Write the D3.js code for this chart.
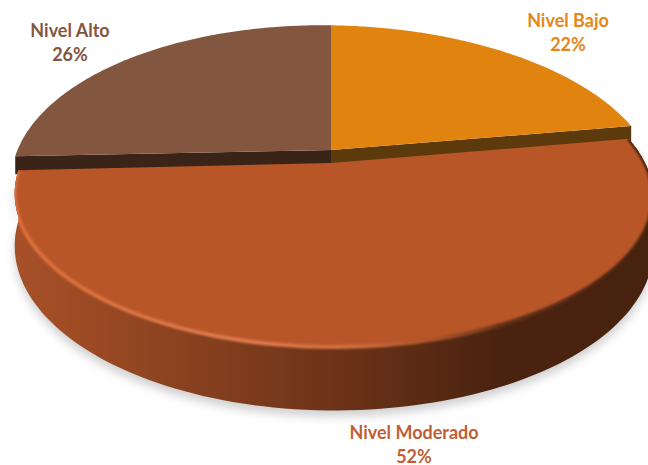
<!DOCTYPE html>
<html>
<head>
<meta charset="utf-8">
<script src="https://cdn.jsdelivr.net/npm/d3@7"></script>
<style>
  html, body { margin: 0; padding: 0; background: #fff; }
  svg { display: block; }
  text { font-family: Lato, "Open Sans", sans-serif; font-weight: 700; font-size: 18px; text-anchor: middle; }
</style>
</head>
<body>
<svg id="chart" width="648" height="465"></svg>
<script>
const categories = ['Nivel Bajo', 'Nivel Moderado', 'Nivel Alto'];
const values = [22, 52, 26];
const topColors = ['#e0830f', '#b85628', '#835640'];
const faceColors = ['#5c3a0b', '#4a2310', '#3a2418'];
const textColors = ['#e5861a', '#c05f35', '#835640'];
const labelPos = [[568, 27], [414, 439], [70, 37]];

const svg = d3.select('#chart');
const defs = svg.append('defs');

// perspective of the pie: back of the disc is squashed, front is stretched
const depth = 50, bulge = 3;
const project = (a, c, d = 0) => {
    const u = Math.sin(a), v = -Math.cos(a), w = 1 / (1 - c.persp * v);
    return [c.x + bulge * Math.abs(u) + c.radX * u * w, c.y + c.tilt * u + (c.radY * v + d) * w];
};

const arcs = d3.pie().sort(null).value(d => d)(values);
const centers = [
    { x: 331, y: 150, radX: 315, radY: 152, persp: 0.219, tilt: 3.5 },
    { x: 331, y: 163, radX: 312, radY: 145, persp: 0.212, tilt: 2 },
    { x: 331, y: 150, radX: 315, radY: 152, persp: 0.219, tilt: 3.5 }
];
const line = d3.line();
const sample = (a0, a1) => d3.range(0, 121).map(d3.scaleLinear([0, 120], [a0, a1]));

const slicePath = (d, c) =>
    line([[c.x, c.y], ...sample(d.startAngle, d.endAngle).map(a => project(a, c))]) + 'Z';

function addGradient(id, stops) {
    const g = defs.append('linearGradient').attr('id', id)
        .attr('gradientUnits', 'userSpaceOnUse')
        .attr('x1', 0).attr('x2', 648).attr('y1', 0).attr('y2', 0);
    stops.forEach(([o, col]) => g.append('stop').attr('offset', o).attr('stop-color', col));
}
addGradient('wallGrad', [[0, '#a8522a'], [0.1, '#a04c24'], [0.31, '#86401f'], [0.51, '#6e3319'], [0.77, '#4a2310'], [1, '#47220f']]);
addGradient('rimGrad', [[0, '#dc6c39'], [0.38, '#de7a4c'], [0.55, '#cf6c3e'], [0.68, '#a34f28'], [0.78, '#5e2f16'], [1, '#46220f']]);

defs.append('filter').attr('id', 'shadowBlur')
    .attr('x', '-10%').attr('y', '-10%').attr('width', '120%').attr('height', '120%')
    .append('feGaussianBlur').attr('stdDeviation', 5);
defs.append('filter').attr('id', 'softBlur')
    .attr('x', '-5%').attr('y', '-5%').attr('width', '110%').attr('height', '110%')
    .append('feGaussianBlur').attr('stdDeviation', 1.3);

const mod = arcs[1], modC = centers[1];
const rimAngles = sample(mod.startAngle, mod.endAngle);
const wallPath = line([
    ...rimAngles.map(a => project(a, modC)),
    ...rimAngles.slice().reverse().map(a => project(a, modC, depth))
]) + 'Z';

// ground shadow
svg.append('path').attr('d', wallPath)
    .attr('transform', 'translate(0,6)')
    .attr('fill', '#8f8f8f').attr('opacity', 0.42)
    .attr('filter', 'url(#shadowBlur)');

// cut faces and tops of the two back slices
[0, 2].forEach(i => {
    const c = centers[i];
    const edge = i === 0 ? arcs[i].endAngle : arcs[i].startAngle;
    const p = project(edge, c);
    svg.append('path')
        .attr('d', line([[c.x, c.y], p, [p[0], p[1] + 18], [c.x, c.y + 18]]) + 'Z')
        .attr('fill', faceColors[i]);
    svg.append('path').attr('d', slicePath(arcs[i], c)).attr('fill', topColors[i]);
});

// front slice: wall, top, bevel kept inside the solid
const modClip = svg.append('clipPath').attr('id', 'modClip');
modClip.append('path').attr('d', wallPath);
modClip.append('path').attr('d', slicePath(mod, modC));
svg.append('path').attr('d', wallPath).attr('fill', 'url(#wallGrad)');
svg.append('path').attr('d', slicePath(mod, modC)).attr('fill', topColors[1]);
svg.append('g').attr('clip-path', 'url(#modClip)')
    .append('path')
    .attr('d', line(rimAngles.map(a => project(a, modC))))
    .attr('fill', 'none')
    .attr('stroke', 'url(#rimGrad)')
    .attr('stroke-width', 4)
    .attr('filter', 'url(#softBlur)');

// labels
categories.forEach((name, i) => {
    const t = svg.append('text').attr('fill', textColors[i])
        .attr('x', labelPos[i][0]).attr('y', labelPos[i][1]);
    t.append('tspan').text(name);
    t.append('tspan').attr('x', labelPos[i][0]).attr('dy', 23.5).text(values[i] + '%');
});
</script>
</body>
</html>
